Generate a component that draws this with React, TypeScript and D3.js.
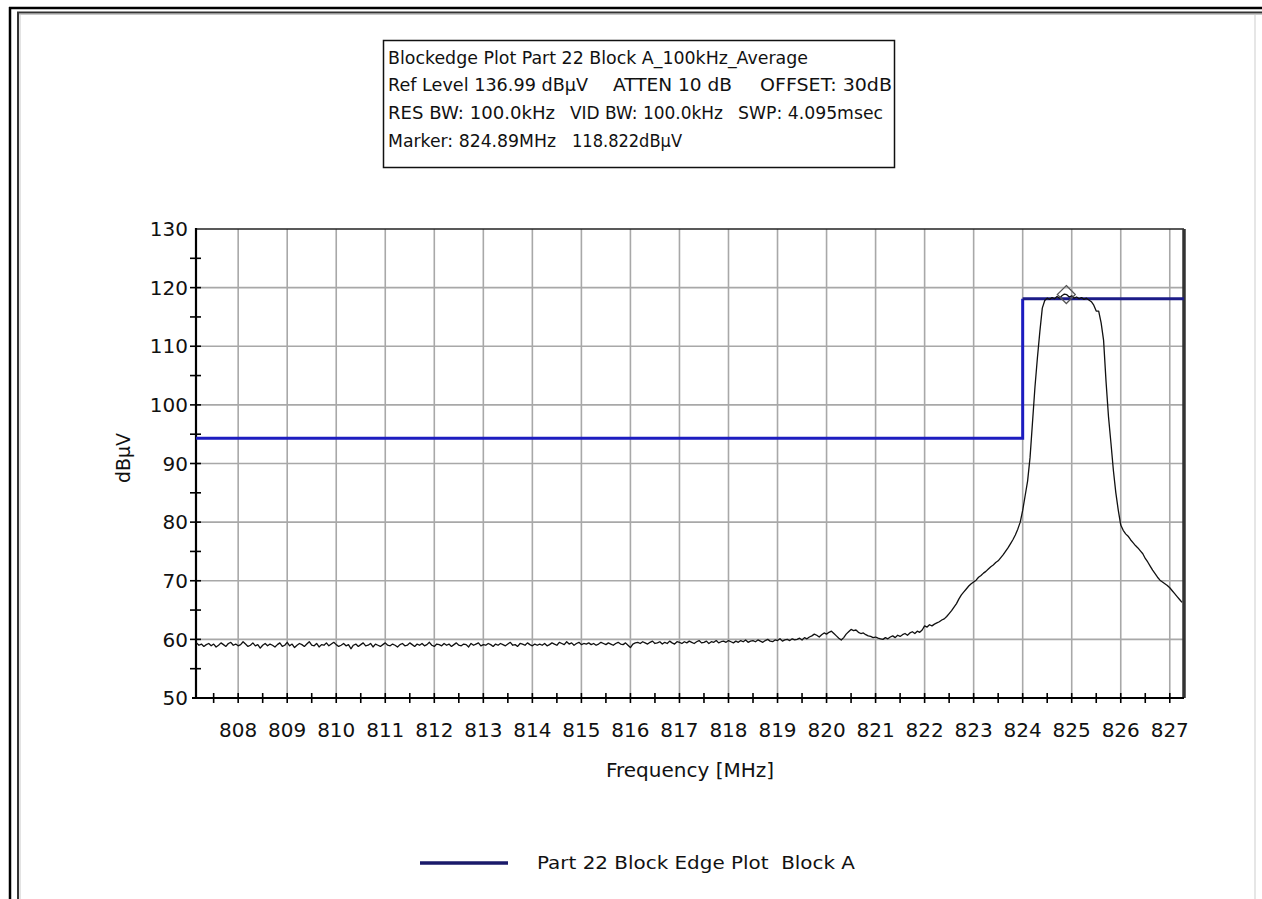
import React from "react";
import * as d3 from "d3";

// ---------- data ----------
const X_TICKS = [808, 809, 810, 811, 812, 813, 814, 815, 816, 817, 818, 819, 820, 821, 822, 823, 824, 825, 826, 827];
const Y_TICKS = [50, 60, 70, 80, 90, 100, 110, 120, 130];
const X_DOMAIN = [807.14, 827.29];
const Y_DOMAIN = [50, 130];

const LIMIT_LOW_FREQ = [807.14, 824.0, 824.0];
const LIMIT_LOW_LEVEL = [94.3, 94.3, 118.1];
const LIMIT_HIGH_FREQ = [824.0, 827.29];
const LIMIT_HIGH_LEVEL = [118.1, 118.1];

const MARKER_FREQ = 824.89;
const MARKER_LEVEL = 118.822;

const TRACE_START = 807.15;
const TRACE_STEP = 0.05;
const TRACE_LEVELS = [
  59.4, 59.0, 59.2, 58.8, 59.1, 59.3, 58.9, 59.2, 58.7, 59.0, 59.4, 59.1, 58.8, 59.3, 59.5, 59.0, 59.2, 58.9, 59.1, 59.6,
  59.2, 58.8, 59.0, 59.4, 58.9, 59.1, 58.5, 59.0, 59.3, 58.9, 59.2, 59.0, 58.7, 59.1, 59.4, 58.8, 59.0, 59.5, 58.9, 59.2,
  58.6, 59.0, 59.3, 59.1, 58.8, 59.2, 59.6, 59.0, 58.9, 59.3, 58.7, 59.1, 59.0, 59.4, 58.9, 59.2, 59.5, 59.1, 58.8, 59.0,
  59.3, 58.9, 59.1, 58.4, 59.0, 59.2, 58.8, 59.1, 59.4, 58.9, 59.0, 59.3, 58.7, 59.2, 59.0, 58.8, 59.1, 59.4, 59.0, 58.9,
  59.2, 59.0, 58.7, 59.1, 59.3, 58.9, 59.0, 59.4, 59.1, 58.8, 59.2, 59.0, 59.3, 58.9, 59.1, 59.5, 59.0, 58.8, 59.2, 59.1,
  58.9, 59.3, 59.0, 59.2, 58.8, 59.1, 59.4, 59.0, 58.9, 59.2, 59.1, 58.7, 59.3, 59.0, 59.2, 59.4, 58.9, 59.1, 59.0, 59.3,
  59.1, 58.8, 59.2, 59.0, 59.3, 59.1, 58.9, 59.2, 59.5, 59.0, 59.1, 58.8, 59.3, 59.2, 59.0, 59.4, 59.1, 58.9, 59.2, 59.0,
  59.2, 59.0, 59.3, 58.9, 59.1, 59.4, 59.2, 59.0, 59.5, 59.3, 59.1, 59.6, 59.2, 59.4, 59.0, 59.3, 59.5, 59.1, 59.3, 59.2,
  59.4, 59.1, 59.3, 59.0, 59.2, 59.5, 59.3, 59.1, 59.4, 59.2, 59.0, 59.3, 59.5, 59.2, 59.1, 59.4, 59.0, 58.6, 59.2, 59.4,
  59.5, 59.3, 59.6, 59.4, 59.2, 59.5, 59.7, 59.3, 59.4, 59.6, 59.2, 59.5, 59.3, 59.7, 59.4, 59.2, 59.6, 59.5, 59.3, 59.6,
  59.4, 59.7, 59.5, 59.3, 59.6, 59.8, 59.4, 59.5, 59.7, 59.3, 59.6, 59.5, 59.8, 59.4, 59.6, 59.7, 59.5, 59.8, 59.6, 59.4,
  59.7, 59.5, 59.8, 59.6, 59.9, 59.5, 59.7, 59.8, 59.6, 59.9, 59.7, 59.5, 59.8, 60.0, 59.7, 59.6, 59.9, 59.8, 60.1, 59.7,
  59.9, 60.0, 59.8, 60.1, 59.9, 60.0, 60.2, 59.9, 60.3, 60.1, 60.4, 60.6, 60.9, 60.7, 60.4, 60.8, 61.1, 60.9, 61.2, 61.4,
  61.0, 60.6, 60.2, 59.9, 60.3, 60.9, 61.3, 61.7, 61.5, 61.6, 61.2, 61.0, 61.1, 60.8, 60.6, 60.5, 60.3, 60.4, 60.2, 60.1,
  60.0, 60.3, 60.1, 60.4, 60.6, 60.3, 60.7, 60.5, 60.8, 61.0, 60.7, 61.1, 61.3, 61.0, 61.4, 61.2, 61.6, 62.3, 62.1, 62.5,
  62.3, 62.6, 62.8, 63.0, 63.3, 63.5, 63.9, 64.4, 64.9, 65.5, 66.1, 66.9, 67.6, 68.1, 68.6, 69.1, 69.5, 69.8, 70.1, 70.6,
  70.9, 71.3, 71.6, 72.0, 72.4, 72.7, 73.1, 73.4, 73.9, 74.4, 75.0, 75.6, 76.3, 77.0, 77.8, 78.8, 80.0, 82.0, 84.5, 87.0,
  91.0, 97.0, 103.0, 108.0, 112.5, 116.5, 117.8, 118.2, 118.0, 118.3, 118.1, 118.5, 118.2, 118.6, 118.9, 118.8, 118.4, 118.6, 118.2, 118.4,
  118.1, 118.3, 118.0, 118.2, 117.9, 117.6, 117.0, 116.0, 116.0, 114.0, 111.0, 104.0, 98.0, 93.5, 88.8, 85.0, 82.0, 79.5, 78.6, 78.0,
  77.6, 77.0, 76.5, 76.0, 75.6, 75.1, 74.6, 73.8, 73.2, 72.5, 71.8, 71.2, 70.6, 70.1, 69.8, 69.5, 69.2, 68.8, 68.3, 67.8,
  67.3, 66.8, 66.3,
];

const INFO_LINES = [
  [{ t: "Blockedge Plot Part 22 Block A_100kHz_Average", x0: 388, x1: 808 }],
  [
    { t: "Ref Level 136.99 dBµV", x0: 388, x1: 588 },
    { t: "ATTEN 10 dB", x0: 613, x1: 732 },
    { t: "OFFSET: 30dB", x0: 760, x1: 892 },
  ],
  [
    { t: "RES BW: 100.0kHz", x0: 388, x1: 555 },
    { t: "VID BW: 100.0kHz", x0: 570, x1: 723 },
    { t: "SWP: 4.095msec", x0: 738, x1: 883 },
  ],
  [
    { t: "Marker: 824.89MHz", x0: 388, x1: 556 },
    { t: "118.822dBµV", x0: 572, x1: 682 },
  ],
];
const INFO_BASELINES = [64, 91, 119, 147];

const LEGEND_LABEL = "Part 22 Block Edge Plot  Block A";
const X_TITLE = "Frequency [MHz]";
const Y_TITLE = "dBµV";

// ---------- layout ----------
const W = 1262;
const H = 899;
const PL = 196, PR = 1184, PT = 229, PB = 698;
const FONT = "'DejaVu Sans', sans-serif";

export default function App() {
  const x = d3.scaleLinear().domain(X_DOMAIN).range([PL, PR]);
  const y = d3.scaleLinear().domain(Y_DOMAIN).range([PB, PT]);

  const trace = TRACE_LEVELS.map((v, i) => [TRACE_START + i * TRACE_STEP, v] as [number, number]);
  const line = d3.line<[number, number]>().x((d) => x(d[0])).y((d) => y(d[1]));
  const lowPts = LIMIT_LOW_FREQ.map((f, i) => [f, LIMIT_LOW_LEVEL[i]] as [number, number]);
  const highPts = LIMIT_HIGH_FREQ.map((f, i) => [f, LIMIT_HIGH_LEVEL[i]] as [number, number]);

  const minorX = d3.range(Math.ceil(X_DOMAIN[0] * 2) / 2, X_DOMAIN[1], 0.5);
  const minorY = d3.range(Y_DOMAIN[0] + 5, Y_DOMAIN[1], 5);

  const mx = x(MARKER_FREQ);
  const my = y(MARKER_LEVEL);

  return (
    <svg
      width={W}
      height={H}
      style={{ position: "absolute", left: 0, top: 0, background: "#fff" }}
      fontFamily={FONT}
    >
      <rect x={0} y={0} width={W} height={H} fill="#fff" />
      {/* outer frame */}
      <line x1={9} y1={8} x2={W} y2={8} stroke="#000" strokeWidth={2.5} />
      <line x1={10} y1={7} x2={10} y2={H} stroke="#000" strokeWidth={2.5} />
      <line x1={17} y1={12.5} x2={W} y2={12.5} stroke="#333" strokeWidth={2} />
      <line x1={18} y1={12} x2={18} y2={H} stroke="#333" strokeWidth={2} />
      <line x1={19} y1={14.5} x2={W} y2={14.5} stroke="#c8c8c8" strokeWidth={1} />
      <line x1={20} y1={14} x2={20} y2={H} stroke="#c8c8c8" strokeWidth={1} />
      <line x1={1255} y1={15} x2={1255} y2={H} stroke="#e6e6e6" strokeWidth={2} />

      {/* info box */}
      <rect x={383.5} y={40.5} width={511} height={127} fill="#fff" stroke="#111" strokeWidth={1.5} />
      {INFO_LINES.map((segs, li) =>
        segs.map((s, si) => (
          <text
            key={`${li}-${si}`}
            x={s.x0}
            y={INFO_BASELINES[li]}
            fontSize={17}
            fill="#111"
            textLength={s.x1 - s.x0}
            lengthAdjust="spacingAndGlyphs"
          >
            {s.t}
          </text>
        ))
      )}

      {/* grid */}
      {X_TICKS.map((t) => (
        <line key={`gx${t}`} x1={x(t)} x2={x(t)} y1={PT} y2={PB} stroke="#a8a8a8" strokeWidth={1.6} />
      ))}
      {Y_TICKS.filter((t) => t > Y_DOMAIN[0] && t < Y_DOMAIN[1]).map((t) => (
        <line key={`gy${t}`} x1={PL} x2={PR} y1={y(t)} y2={y(t)} stroke="#a8a8a8" strokeWidth={1.6} />
      ))}

      {/* frame */}
      <line x1={PL} x2={PR} y1={PT} y2={PT} stroke="#222" strokeWidth={1.5} />
      <line x1={PR} x2={PR} y1={PT} y2={PB} stroke="#333" strokeWidth={3.5} />
      <line x1={PL} x2={PL} y1={PT - 1} y2={PB + 1} stroke="#000" strokeWidth={2.2} />
      <line x1={PL - 4} x2={PR} y1={PB} y2={PB} stroke="#000" strokeWidth={2.2} />

      {/* ticks */}
      {minorX.map((t) => (
        <line key={`tx${t}`} x1={x(t)} x2={x(t)} y1={PB - 5} y2={PB + 5} stroke="#000" strokeWidth={1.6} />
      ))}
      {minorY.map((t) => (
        <line key={`ty${t}`} x1={PL - 6} x2={PL + 5} y1={y(t)} y2={y(t)} stroke="#000" strokeWidth={1.6} />
      ))}

      {/* limit line */}
      <path d={line(lowPts) || ""} fill="none" stroke="#1c1cc0" strokeWidth={3} />
      <path d={line(highPts) || ""} fill="none" stroke="#1c1c88" strokeWidth={3} />

      {/* trace */}
      <path d={line(trace) || ""} fill="none" stroke="#111" strokeWidth={1.3} strokeLinejoin="round" />

      {/* marker */}
      <path
        d={`M${mx},${my - 9} L${mx + 9},${my} L${mx},${my + 9} L${mx - 9},${my} Z`}
        fill="none"
        stroke="#555"
        strokeWidth={1.2}
      />

      {/* tick labels */}
      {Y_TICKS.map((t) => (
        <text key={`ly${t}`} x={188} y={y(t)} dy="0.36em" textAnchor="end" fontSize={20} fill="#111">
          {t}
        </text>
      ))}
      {X_TICKS.map((t) => (
        <text key={`lx${t}`} x={x(t)} y={737} textAnchor="middle" fontSize={20} fill="#111">
          {t}
        </text>
      ))}

      {/* axis titles */}
      <text x={690} y={777} textAnchor="middle" fontSize={20} fill="#111">
        {X_TITLE}
      </text>
      <text
        transform={`translate(130,458) rotate(-90)`}
        textAnchor="middle"
        fontSize={19}
        fill="#111"
      >
        {Y_TITLE}
      </text>

      {/* legend */}
      <line x1={420} x2={508} y1={863} y2={863} stroke="#1a1a6a" strokeWidth={3.5} />
      <text
        x={537}
        y={869}
        fontSize={17.5}
        fill="#111"
        textLength={318}
        lengthAdjust="spacingAndGlyphs"
        style={{ whiteSpace: "pre" }}
      >
        {LEGEND_LABEL}
      </text>
    </svg>
  );
}
